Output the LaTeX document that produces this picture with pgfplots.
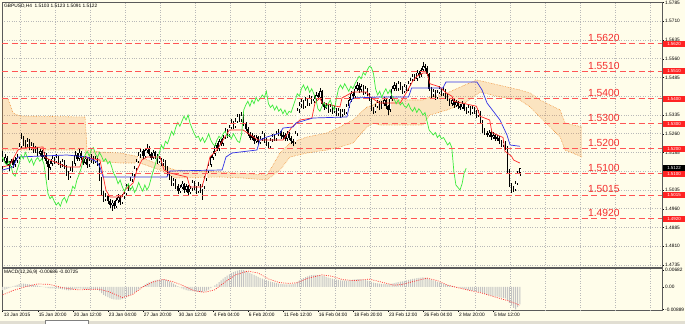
\documentclass[border=0pt]{standalone}
\usepackage{pgfplots}
\pgfplotsset{compat=1.18}
\usepackage{pgfplotstable}
\usetikzlibrary{patterns.meta}
\usepackage{fontspec}
\setmainfont{Liberation Sans}
\definecolor{bgcream}{RGB}{255,253,234}
\definecolor{gridgray}{RGB}{185,185,185}
\definecolor{axisgray}{RGB}{90,90,90}
\definecolor{levelred}{RGB}{255,85,85}
\definecolor{lvltext}{RGB}{245,45,45}
\definecolor{boxred}{RGB}{255,35,35}
\definecolor{tenkan}{RGB}{255,40,40}
\definecolor{kijun}{RGB}{50,50,230}
\definecolor{chikou}{RGB}{60,235,60}
\definecolor{cloudor}{RGB}{240,145,55}
\definecolor{histgray}{RGB}{195,195,195}
\definecolor{sigred}{RGB}{255,50,50}
\definecolor{stripgray}{RGB}{225,222,210}
\newcommand{\tf}{\fontsize{4.8}{5.5}\selectfont}
\newcommand{\lf}{\fontsize{10.3}{12}\selectfont}
\newcommand{\bxf}{\fontsize{4.4}{5}\selectfont}

\pgfplotstableread{
o h l c m
1.5130 1.5190 1.5120 1.5150 -0.0012
1.5150 1.5180 1.5140 1.5165 -0.0010
1.5165 1.5172 1.5130 1.5140 -0.0008
1.5140 1.5150 1.5110 1.5130 -0.0005
1.5130 1.5160 1.5122 1.5150 -0.0002
1.5150 1.5158 1.5125 1.5135 0.0002
1.5135 1.5165 1.5128 1.5155 0.0005
1.5155 1.5180 1.5145 1.5165 0.0008
1.5165 1.5222 1.5158 1.5210 0.0011
1.5210 1.5265 1.5200 1.5240 0.0013
1.5240 1.5250 1.5212 1.5225 0.0013
1.5225 1.5235 1.5200 1.5215 0.0012
1.5215 1.5242 1.5208 1.5230 0.0011
1.5230 1.5238 1.5195 1.5205 0.0010
1.5205 1.5228 1.5196 1.5215 0.0009
1.5215 1.5222 1.5185 1.5195 0.0008
1.5195 1.5212 1.5185 1.5200 0.0006
1.5200 1.5208 1.5170 1.5180 0.0005
1.5180 1.5200 1.5172 1.5190 0.0003
1.5190 1.5196 1.5155 1.5165 0.0001
1.5165 1.5188 1.5158 1.5175 -0.0001
1.5175 1.5182 1.5140 1.5150 -0.0003
1.5150 1.5158 1.5075 1.5125 -0.0005
1.5125 1.5150 1.5115 1.5140 -0.0006
1.5140 1.5172 1.5132 1.5160 -0.0006
1.5160 1.5168 1.5140 1.5150 -0.0006
1.5150 1.5178 1.5142 1.5165 -0.0006
1.5165 1.5170 1.5135 1.5145 -0.0007
1.5145 1.5152 1.5125 1.5135 -0.0008
1.5135 1.5160 1.5128 1.5150 -0.0009
1.5150 1.5155 1.5120 1.5130 -0.0010
1.5130 1.5136 1.5090 1.5100 -0.0012
1.5100 1.5110 1.5075 1.5090 -0.0013
1.5090 1.5125 1.5082 1.5115 -0.0012
1.5115 1.5150 1.5108 1.5140 -0.0010
1.5140 1.5190 1.5132 1.5175 -0.0008
1.5175 1.5185 1.5150 1.5160 -0.0007
1.5160 1.5198 1.5152 1.5185 -0.0006
1.5185 1.5192 1.5155 1.5165 -0.0007
1.5165 1.5172 1.5135 1.5145 -0.0008
1.5145 1.5170 1.5138 1.5160 -0.0009
1.5160 1.5165 1.5122 1.5135 -0.0010
1.5135 1.5165 1.5128 1.5155 -0.0010
1.5155 1.5178 1.5145 1.5165 -0.0009
1.5165 1.5172 1.5140 1.5150 -0.0009
1.5150 1.5170 1.5142 1.5160 -0.0009
1.5160 1.5165 1.5130 1.5140 -0.0011
1.5140 1.5145 1.5070 1.5080 -0.0016
1.5080 1.5088 1.5010 1.5020 -0.0024
1.5020 1.5030 1.4988 1.5000 -0.0031
1.5000 1.5022 1.4990 1.5010 -0.0036
1.5010 1.5018 1.4980 1.4990 -0.0040
1.4990 1.4998 1.4965 1.4975 -0.0044
1.4975 1.4995 1.4952 1.4985 -0.0047
1.4985 1.4992 1.4960 1.4970 -0.0049
1.4970 1.5005 1.4962 1.4995 -0.0050
1.4995 1.5018 1.4985 1.5005 -0.0050
1.5005 1.5012 1.4975 1.4985 -0.0050
1.4985 1.5020 1.4978 1.5010 -0.0048
1.5010 1.5032 1.5000 1.5020 -0.0045
1.5020 1.5060 1.5012 1.5050 -0.0041
1.5050 1.5058 1.5030 1.5040 -0.0037
1.5040 1.5085 1.5035 1.5075 -0.0032
1.5075 1.5105 1.5068 1.5095 -0.0027
1.5095 1.5132 1.5088 1.5120 -0.0021
1.5120 1.5160 1.5112 1.5150 -0.0015
1.5150 1.5188 1.5142 1.5175 -0.0009
1.5175 1.5202 1.5165 1.5190 -0.0003
1.5190 1.5198 1.5160 1.5170 0.0003
1.5170 1.5205 1.5162 1.5195 0.0009
1.5195 1.5218 1.5185 1.5205 0.0014
1.5205 1.5212 1.5170 1.5180 0.0018
1.5180 1.5188 1.5155 1.5165 0.0021
1.5165 1.5195 1.5158 1.5185 0.0024
1.5185 1.5192 1.5160 1.5170 0.0026
1.5170 1.5178 1.5140 1.5150 0.0028
1.5150 1.5172 1.5142 1.5160 0.0029
1.5160 1.5165 1.5130 1.5140 0.0030
1.5140 1.5160 1.5132 1.5150 0.0030
1.5150 1.5155 1.5115 1.5125 0.0029
1.5125 1.5132 1.5090 1.5100 0.0026
1.5100 1.5108 1.5075 1.5085 0.0022
1.5085 1.5092 1.5050 1.5060 0.0018
1.5060 1.5085 1.5052 1.5075 0.0013
1.5075 1.5080 1.5040 1.5050 0.0008
1.5050 1.5058 1.5020 1.5030 0.0003
1.5030 1.5055 1.5022 1.5045 -0.0002
1.5045 1.5072 1.5038 1.5060 -0.0006
1.5060 1.5065 1.5025 1.5035 -0.0009
1.5035 1.5060 1.5028 1.5050 -0.0012
1.5050 1.5055 1.5015 1.5025 -0.0014
1.5025 1.5050 1.5018 1.5040 -0.0015
1.5040 1.5075 1.5032 1.5065 -0.0016
1.5065 1.5070 1.5035 1.5045 -0.0017
1.5045 1.5052 1.5020 1.5030 -0.0018
1.5030 1.5065 1.5022 1.5055 -0.0019
1.5055 1.5060 1.5025 1.5035 -0.0020
1.5035 1.5058 1.4995 1.5050 -0.0019
1.5050 1.5090 1.5040 1.5080 -0.0017
1.5080 1.5120 1.5072 1.5110 -0.0014
1.5110 1.5145 1.5102 1.5135 -0.0010
1.5135 1.5175 1.5128 1.5165 -0.0005
1.5165 1.5192 1.5155 1.5180 0.0000
1.5180 1.5225 1.5172 1.5215 0.0006
1.5215 1.5222 1.5190 1.5200 0.0012
1.5200 1.5240 1.5192 1.5230 0.0019
1.5230 1.5238 1.5210 1.5220 0.0026
1.5220 1.5255 1.5212 1.5245 0.0033
1.5245 1.5282 1.5238 1.5270 0.0039
1.5270 1.5278 1.5245 1.5255 0.0045
1.5255 1.5295 1.5248 1.5285 0.0050
1.5285 1.5318 1.5278 1.5305 0.0055
1.5305 1.5312 1.5280 1.5290 0.0059
1.5290 1.5322 1.5282 1.5310 0.0062
1.5310 1.5340 1.5302 1.5330 0.0065
1.5330 1.5338 1.5305 1.5315 0.0067
1.5315 1.5347 1.5308 1.5335 0.0068
1.5335 1.5340 1.5290 1.5300 0.0067
1.5300 1.5308 1.5270 1.5280 0.0064
1.5280 1.5288 1.5250 1.5260 0.0060
1.5260 1.5268 1.5235 1.5245 0.0056
1.5245 1.5262 1.5236 1.5250 0.0052
1.5250 1.5256 1.5220 1.5230 0.0048
1.5230 1.5255 1.5222 1.5245 0.0044
1.5245 1.5250 1.5215 1.5225 0.0040
1.5225 1.5250 1.5218 1.5240 0.0036
1.5240 1.5270 1.5232 1.5260 0.0033
1.5260 1.5265 1.5225 1.5235 0.0030
1.5235 1.5242 1.5210 1.5220 0.0027
1.5220 1.5228 1.5198 1.5210 0.0024
1.5210 1.5245 1.5205 1.5235 0.0021
1.5235 1.5260 1.5228 1.5250 0.0019
1.5250 1.5258 1.5230 1.5240 0.0017
1.5240 1.5270 1.5232 1.5260 0.0015
1.5260 1.5280 1.5250 1.5270 0.0013
1.5270 1.5276 1.5240 1.5250 0.0012
1.5250 1.5266 1.5240 1.5255 0.0011
1.5255 1.5262 1.5230 1.5240 0.0010
1.5240 1.5270 1.5232 1.5260 0.0010
1.5260 1.5266 1.5235 1.5245 0.0010
1.5245 1.5252 1.5220 1.5230 0.0010
1.5230 1.5240 1.5212 1.5225 0.0011
1.5225 1.5270 1.5218 1.5260 0.0014
1.5260 1.5365 1.5252 1.5355 0.0020
1.5355 1.5388 1.5345 1.5375 0.0026
1.5375 1.5400 1.5365 1.5390 0.0031
1.5390 1.5396 1.5360 1.5370 0.0035
1.5370 1.5405 1.5362 1.5395 0.0039
1.5395 1.5402 1.5370 1.5380 0.0042
1.5380 1.5415 1.5372 1.5405 0.0045
1.5405 1.5412 1.5380 1.5390 0.0047
1.5390 1.5412 1.5382 1.5400 0.0048
1.5400 1.5425 1.5392 1.5415 0.0048
1.5415 1.5422 1.5395 1.5405 0.0047
1.5405 1.5443 1.5398 1.5430 0.0047
1.5430 1.5435 1.5370 1.5380 0.0045
1.5380 1.5388 1.5355 1.5365 0.0043
1.5365 1.5385 1.5358 1.5375 0.0040
1.5375 1.5380 1.5345 1.5355 0.0037
1.5355 1.5380 1.5348 1.5370 0.0035
1.5370 1.5376 1.5340 1.5350 0.0033
1.5350 1.5370 1.5342 1.5360 0.0031
1.5360 1.5365 1.5330 1.5340 0.0029
1.5340 1.5365 1.5332 1.5355 0.0028
1.5355 1.5360 1.5325 1.5335 0.0026
1.5335 1.5360 1.5328 1.5350 0.0025
1.5350 1.5358 1.5335 1.5345 0.0025
1.5345 1.5380 1.5338 1.5370 0.0025
1.5370 1.5405 1.5362 1.5395 0.0026
1.5395 1.5430 1.5388 1.5420 0.0027
1.5420 1.5428 1.5400 1.5410 0.0029
1.5410 1.5450 1.5402 1.5440 0.0030
1.5440 1.5465 1.5432 1.5455 0.0031
1.5455 1.5462 1.5425 1.5435 0.0031
1.5435 1.5460 1.5428 1.5450 0.0030
1.5450 1.5455 1.5415 1.5425 0.0029
1.5425 1.5450 1.5418 1.5440 0.0027
1.5440 1.5445 1.5410 1.5420 0.0025
1.5420 1.5425 1.5390 1.5400 0.0023
1.5400 1.5405 1.5350 1.5360 0.0020
1.5360 1.5368 1.5340 1.5350 0.0017
1.5350 1.5380 1.5342 1.5370 0.0015
1.5370 1.5395 1.5362 1.5385 0.0014
1.5385 1.5390 1.5355 1.5365 0.0013
1.5365 1.5390 1.5358 1.5380 0.0012
1.5380 1.5405 1.5372 1.5395 0.0012
1.5395 1.5400 1.5360 1.5370 0.0011
1.5370 1.5375 1.5335 1.5355 0.0010
1.5355 1.5410 1.5348 1.5400 0.0011
1.5400 1.5450 1.5392 1.5440 0.0013
1.5440 1.5468 1.5432 1.5455 0.0015
1.5455 1.5462 1.5430 1.5440 0.0017
1.5440 1.5472 1.5432 1.5460 0.0019
1.5460 1.5466 1.5435 1.5445 0.0021
1.5445 1.5450 1.5420 1.5430 0.0022
1.5430 1.5460 1.5422 1.5450 0.0024
1.5450 1.5456 1.5430 1.5440 0.0026
1.5440 1.5470 1.5432 1.5460 0.0028
1.5460 1.5485 1.5452 1.5475 0.0030
1.5475 1.5500 1.5468 1.5490 0.0032
1.5490 1.5498 1.5470 1.5480 0.0033
1.5480 1.5515 1.5472 1.5505 0.0035
1.5505 1.5512 1.5485 1.5495 0.0036
1.5495 1.5525 1.5488 1.5515 0.0037
1.5515 1.5547 1.5508 1.5530 0.0038
1.5530 1.5540 1.5512 1.5525 0.0037
1.5525 1.5530 1.5490 1.5500 0.0035
1.5500 1.5505 1.5430 1.5440 0.0032
1.5440 1.5448 1.5400 1.5415 0.0029
1.5415 1.5440 1.5408 1.5430 0.0026
1.5430 1.5435 1.5395 1.5405 0.0023
1.5405 1.5435 1.5398 1.5425 0.0020
1.5425 1.5450 1.5418 1.5440 0.0018
1.5440 1.5445 1.5410 1.5420 0.0015
1.5420 1.5445 1.5412 1.5435 0.0013
1.5435 1.5440 1.5400 1.5410 0.0010
1.5410 1.5418 1.5390 1.5400 0.0008
1.5400 1.5405 1.5370 1.5380 0.0006
1.5380 1.5405 1.5372 1.5395 0.0004
1.5395 1.5400 1.5365 1.5375 0.0002
1.5375 1.5395 1.5368 1.5385 0.0000
1.5385 1.5390 1.5360 1.5370 -0.0002
1.5370 1.5378 1.5355 1.5365 -0.0004
1.5365 1.5390 1.5358 1.5380 -0.0006
1.5380 1.5385 1.5350 1.5360 -0.0008
1.5360 1.5368 1.5340 1.5350 -0.0010
1.5350 1.5375 1.5342 1.5365 -0.0012
1.5365 1.5370 1.5335 1.5345 -0.0013
1.5345 1.5370 1.5338 1.5360 -0.0015
1.5360 1.5366 1.5340 1.5350 -0.0016
1.5350 1.5356 1.5325 1.5335 -0.0018
1.5335 1.5355 1.5328 1.5345 -0.0019
1.5345 1.5350 1.5300 1.5310 -0.0021
1.5310 1.5315 1.5265 1.5275 -0.0024
1.5275 1.5282 1.5255 1.5265 -0.0027
1.5265 1.5272 1.5245 1.5255 -0.0030
1.5255 1.5275 1.5248 1.5265 -0.0032
1.5265 1.5270 1.5235 1.5245 -0.0034
1.5245 1.5265 1.5238 1.5255 -0.0035
1.5255 1.5260 1.5230 1.5240 -0.0037
1.5240 1.5255 1.5232 1.5245 -0.0038
1.5245 1.5250 1.5220 1.5230 -0.0040
1.5230 1.5236 1.5205 1.5215 -0.0042
1.5215 1.5235 1.5208 1.5225 -0.0043
1.5225 1.5230 1.5195 1.5205 -0.0045
1.5205 1.5210 1.5100 1.5110 -0.0052
1.5110 1.5118 1.5045 1.5055 -0.0063
1.5055 1.5065 1.5025 1.5045 -0.0074
1.5045 1.5052 1.5028 1.5035 -0.0083
1.5035 1.5070 1.5030 1.5060 -0.0089
1.5060 1.5110 1.5055 1.5103 -0.0080
1.5103 1.5123 1.5091 1.5122 -0.0069
}\price

\begin{document}
\begin{tikzpicture}
\useasboundingbox (0pt,0pt) rectangle (685pt,324pt);
\fill[bgcream] (0pt,0pt) rectangle (685pt,324pt);

% ---------------- main price panel ----------------
\begin{axis}[
  at={(2pt,57pt)}, anchor=south west,
  scale only axis, width=660pt, height=265pt,
  xmin=-0.34, xmax=320.05, ymin=1.4727, ymax=1.5787,
  axis line style={draw=axisgray, line width=0.8pt},
  xtick={8.5,25.5,...,314.5},
  xticklabels={},
  xmajorgrids=true,
  ytick={1.4735,1.4810,1.4885,1.4960,1.5035,1.5110,1.5185,1.5260,1.5335,1.5410,1.5485,1.5560,1.5635,1.5710,1.5785},
  yticklabels={1.4735,1.4810,1.4885,1.4960,1.5035,,1.5185,1.5260,1.5335,,1.5485,1.5560,1.5635,1.5710,1.5785},
  ymajorgrids=true,
  major grid style={draw=gridgray, dotted, line width=0.5pt},
  xtick style={draw=none},
  ytick style={draw=black, line width=0.4pt},
  ytick pos=right, yticklabel pos=right,
  tick align=outside, major tick length=2pt,
  scaled y ticks=false,
  yticklabel style={font=\tf, anchor=west, inner sep=1pt},
]
% Ichimoku cloud: area between Senkou span A and B (outline: A left to right, B right to left)
\addplot[pattern={Dots[distance=2pt,radius=0.62pt]}, pattern color=cloudor, draw=none] coordinates {
(-0.34,1.5403) (2.6,1.5399) (5.0,1.5343) (8.4,1.5331) (40.0,1.5327) (40.9,1.5195)
(47.2,1.5187) (57.0,1.5183) (66.6,1.5167) (76.4,1.5135) (83.7,1.5115) (105.5,1.5107)
(128.3,1.5095) (130.7,1.5127) (134.6,1.5183) (139.5,1.5223) (147.7,1.5247) (157.4,1.5263)
(163.7,1.5287) (170.0,1.5315) (176.8,1.5367) (179.8,1.5375) (183.2,1.5395) (204.0,1.5395)
(207.4,1.5407) (215.7,1.5423) (224.4,1.5455) (230.2,1.5475) (236.5,1.5463) (251.1,1.5435)
(256.0,1.5423) (260.8,1.5395) (270.6,1.5355) (273.0,1.5303) (281.2,1.5287)
(281.2,1.5167) (273.0,1.5195) (270.6,1.5247) (265.7,1.5287) (260.8,1.5327) (256.0,1.5367)
(251.1,1.5395) (241.4,1.5407) (231.7,1.5427) (224.4,1.5383) (215.7,1.5355) (207.4,1.5335)
(204.0,1.5295) (183.2,1.5295) (179.8,1.5303) (176.8,1.5287) (170.0,1.5223) (163.7,1.5207)
(157.4,1.5195) (147.7,1.5183) (139.5,1.5167) (134.6,1.5115) (128.3,1.5075) (116.7,1.5083)
(105.5,1.5087) (83.7,1.5083) (76.4,1.5115) (66.6,1.5143) (57.0,1.5143) (40.9,1.5155)
(40.0,1.5195) (-0.34,1.5195)};
% Senkou span A
\addplot[draw=cloudor, densely dotted, line width=0.6pt, mark=none] coordinates {
(-0.34,1.5403) (2.6,1.5399) (5.0,1.5343) (8.4,1.5331) (40.0,1.5327) (40.9,1.5195)
(47.2,1.5187) (57.0,1.5183) (66.6,1.5167) (76.4,1.5135) (83.7,1.5115) (105.5,1.5107)
(128.3,1.5095) (130.7,1.5127) (134.6,1.5183) (139.5,1.5223) (147.7,1.5247) (157.4,1.5263)
(163.7,1.5287) (170.0,1.5315) (176.8,1.5367) (179.8,1.5375) (183.2,1.5395) (204.0,1.5395)
(207.4,1.5407) (215.7,1.5423) (224.4,1.5455) (230.2,1.5475) (236.5,1.5463) (251.1,1.5435)
(256.0,1.5423) (260.8,1.5395) (270.6,1.5355) (273.0,1.5303) (281.2,1.5287)};
% Senkou span B
\addplot[draw=cloudor, densely dotted, line width=0.6pt, mark=none] coordinates {
(-0.34,1.5195) (40.0,1.5195) (40.9,1.5155) (57.0,1.5143) (66.6,1.5143) (76.4,1.5115)
(83.7,1.5083) (105.5,1.5087) (116.7,1.5083) (128.3,1.5075) (134.6,1.5115) (139.5,1.5167)
(147.7,1.5183) (157.4,1.5195) (163.7,1.5207) (170.0,1.5223) (176.8,1.5287) (179.8,1.5303)
(183.2,1.5295) (204.0,1.5295) (207.4,1.5335) (215.7,1.5355) (224.4,1.5383) (231.7,1.5427)
(241.4,1.5407) (251.1,1.5395) (256.0,1.5367) (260.8,1.5327) (265.7,1.5287) (270.6,1.5247)
(273.0,1.5195) (281.2,1.5167)};

% candles: wicks
\addplot[draw=none, mark=none,
  error bars/.cd, y dir=both, y explicit, error mark=none,
  error bar style={draw=black, line width=0.5pt}]
  table[x expr=\coordindex, y expr={(\thisrow{h}+\thisrow{l})/2},
        y error expr={(\thisrow{h}-\thisrow{l})/2}] {\price};
% candles: bodies
\addplot[draw=none, mark=none,
  error bars/.cd, y dir=both, y explicit, error mark=none,
  error bar style={draw=black, line width=1.35pt}]
  table[x expr=\coordindex, y expr={(\thisrow{o}+\thisrow{c})/2},
        y error expr={max(abs(\thisrow{o}-\thisrow{c})/2,0.00012)}] {\price};
% bullish candles: white core
\addplot[draw=none, mark=none,
  error bars/.cd, y dir=both, y explicit, error mark=none,
  error bar style={draw=white, line width=0.45pt}]
  table[x expr=\coordindex, y expr={(\thisrow{o}+\thisrow{c})/2},
        y error expr={max((\thisrow{c}-\thisrow{o})/2-0.00025,0)}] {\price};

% Tenkan-sen
\addplot[tenkan, line width=0.7pt, mark=none] coordinates {
(0,1.5127) (3.5,1.5135) (7.4,1.5195) (9.4,1.5203) (19.6,1.5207) (20.5,1.5167) (23,1.5155)
(31.2,1.5127) (37.5,1.5127) (39,1.5167) (47.2,1.5155) (48.2,1.5115) (50.1,1.5035) (52.1,1.5007)
(57.9,1.5007) (59.4,1.5035) (63.3,1.5063) (65.2,1.5115) (67.6,1.5155) (70,1.5167) (76.4,1.5167)
(78.3,1.5115) (81.2,1.5103) (89.5,1.5087) (90.9,1.5047) (96.7,1.5047) (98.7,1.5103) (100.6,1.5167)
(104,1.5195) (107,1.5235) (110,1.5275) (116.7,1.5275) (123.9,1.5235) (136.1,1.5235) (140.4,1.5287)
(144.3,1.5315) (150.1,1.5323) (151.6,1.5383) (154,1.5403) (155,1.5383) (163.7,1.5367) (164.7,1.5403)
(170,1.5427) (176.8,1.5427) (178.3,1.5407) (183,1.5383) (193,1.5383) (196.3,1.5430) (199,1.5470)
(201.1,1.5490) (204,1.5503) (206,1.5503) (207.4,1.5460) (212,1.5448) (215,1.5425) (218.1,1.5410)
(219,1.5390) (230,1.5370) (231.7,1.5330) (236.4,1.5315) (237.5,1.5265) (242.9,1.5245)
(243.8,1.5190) (247,1.5170) (248,1.5155) (251,1.5143)};
% Kijun-sen
\addplot[kijun, line width=0.7pt, mark=none] coordinates {
(0,1.5115) (5,1.5127) (7.4,1.5167) (31.2,1.5175) (40.9,1.5167) (45.8,1.5147) (47.2,1.5127)
(48.7,1.5087) (79.7,1.5087) (81.2,1.5111) (106.5,1.5115) (108.4,1.5167) (111.3,1.5183)
(123.4,1.5195) (124.9,1.5235) (128.3,1.5247) (134.6,1.5263) (136.1,1.5283) (140.9,1.5287)
(142.4,1.5303) (150.6,1.5323) (167.1,1.5327) (168.6,1.5383) (170,1.5403) (183,1.5407)
(197,1.5407) (198.5,1.5443) (213.7,1.5443) (215.2,1.5467) (230.2,1.5467) (232.7,1.5435)
(235.1,1.5383) (241.4,1.5315) (244.8,1.5255) (246.3,1.5215) (251,1.5210)};
% Chikou span (close shifted 26 bars back)
\addplot[chikou, line width=0.7pt, mark=none] table[x expr=\coordindex-26, y=c] {\price};

% horizontal levels
\addplot[levelred, line width=0.9pt, dash pattern=on 6pt off 3.5pt] coordinates {(-0.34,1.5620) (320.05,1.5620)};
\addplot[levelred, line width=0.9pt, dash pattern=on 6pt off 3.5pt] coordinates {(-0.34,1.5510) (320.05,1.5510)};
\addplot[levelred, line width=0.9pt, dash pattern=on 6pt off 3.5pt] coordinates {(-0.34,1.5400) (320.05,1.5400)};
\addplot[levelred, line width=0.9pt, dash pattern=on 6pt off 3.5pt] coordinates {(-0.34,1.5300) (320.05,1.5300)};
\addplot[levelred, line width=0.9pt, dash pattern=on 6pt off 3.5pt] coordinates {(-0.34,1.5200) (320.05,1.5200)};
\addplot[levelred, line width=0.9pt, dash pattern=on 6pt off 3.5pt] coordinates {(-0.34,1.5100) (320.05,1.5100)};
\addplot[levelred, line width=0.9pt, dash pattern=on 6pt off 3.5pt] coordinates {(-0.34,1.5015) (320.05,1.5015)};
\addplot[levelred, line width=0.9pt, dash pattern=on 6pt off 3.5pt] coordinates {(-0.34,1.4920) (320.05,1.4920)};

\node[anchor=base west, font=\lf, text=lvltext, inner sep=0pt, yshift=2pt] at (axis cs:284.1,1.5620) {1.5620};
\node[anchor=base west, font=\lf, text=lvltext, inner sep=0pt, yshift=2pt] at (axis cs:284.1,1.5510) {1.5510};
\node[anchor=base west, font=\lf, text=lvltext, inner sep=0pt, yshift=2pt] at (axis cs:284.1,1.5400) {1.5400};
\node[anchor=base west, font=\lf, text=lvltext, inner sep=0pt, yshift=2pt] at (axis cs:284.1,1.5300) {1.5300};
\node[anchor=base west, font=\lf, text=lvltext, inner sep=0pt, yshift=2pt] at (axis cs:284.1,1.5200) {1.5200};
\node[anchor=base west, font=\lf, text=lvltext, inner sep=0pt, yshift=2pt] at (axis cs:284.1,1.5100) {1.5100};
\node[anchor=base west, font=\lf, text=lvltext, inner sep=0pt, yshift=2pt] at (axis cs:284.1,1.5015) {1.5015};
\node[anchor=base west, font=\lf, text=lvltext, inner sep=0pt, yshift=2pt] at (axis cs:284.1,1.4920) {1.4920};
\end{axis}

% ---------------- MACD panel ----------------
\begin{axis}[
  at={(2pt,14pt)}, anchor=south west,
  scale only axis, width=660pt, height=42pt,
  xmin=-0.34, xmax=320.05, ymin=-0.0091, ymax=0.0075,
  axis line style={draw=axisgray, line width=0.8pt},
  xtick={0,17,...,238},
  xticklabels={13 Jan 2015,15 Jan 20:00,20 Jan 12:00,23 Jan 04:00,27 Jan 20:00,30 Jan 12:00,4 Feb 04:00,6 Feb 20:00,11 Feb 12:00,16 Feb 04:00,18 Feb 20:00,23 Feb 12:00,26 Feb 04:00,2 Mar 20:00,5 Mar 12:00},
  xtick pos=left, xticklabel pos=left,
  xticklabel style={font=\tf, anchor=north west, inner sep=0.6pt, xshift=0.3pt},
  extra x ticks={8.5,25.5,...,314.5},
  extra x tick labels={},
  extra x tick style={grid=major, major grid style={draw=gridgray, dotted, line width=0.5pt}, tick style={draw=none}},
  ytick={-0.00889,0,0.00682},
  yticklabels={-0.00889,0.00,0.00682},
  scaled y ticks=false,
  ytick pos=right, yticklabel pos=right,
  yticklabel style={font=\tf, anchor=west, inner sep=1pt},
  tick align=outside, major tick length=2pt,
  tick style={draw=black, line width=0.4pt},
]
\addplot[ybar, bar width=1pt, fill=histgray, draw=none] table[x expr=\coordindex, y=m] {\price};
\addplot[sigred, line width=0.75pt, dash pattern=on 0.9pt off 1.3pt, mark=none] coordinates {
(0,-0.0031) (5,-0.0014) (12,0.0003) (17,0.0012) (23,0.0010) (29,-0.0003) (36,-0.0011) (42,-0.0010)
(47,-0.0009) (52,-0.0020) (58,-0.0042) (63,-0.0030) (68,0.0000) (73,0.0020) (78,0.0030) (83,0.0020)
(88,0.0004) (93,-0.0015) (98,-0.0021) (103,-0.0011) (108,0.0020) (113,0.0048) (119,0.0063)
(124,0.0055) (129,0.0032) (134,0.0018) (139,0.0014) (143,0.0017) (148,0.0034) (155,0.0048)
(160,0.0042) (165,0.0029) (171,0.0025) (178,0.0031) (185,0.0017) (190,0.0007) (194,0.0010)
(199,0.0021) (206,0.0035) (211,0.0025) (216,0.0007) (221,-0.0003) (227,-0.0014) (233,-0.0025)
(240,-0.0042) (246,-0.0056) (251,-0.00725)};
\end{axis}

% ---------------- price scale boxes ----------------
\fill[boxred] (663pt,277.25pt) rectangle (685pt,283.25pt); \node[font=\bxf, text=white, inner sep=0pt] at (674pt,280.25pt) {1.5620};
\fill[boxred] (663pt,249.75pt) rectangle (685pt,255.75pt); \node[font=\bxf, text=white, inner sep=0pt] at (674pt,252.75pt) {1.5510};
\fill[boxred] (663pt,222.25pt) rectangle (685pt,228.25pt); \node[font=\bxf, text=white, inner sep=0pt] at (674pt,225.25pt) {1.5400};
\fill[boxred] (663pt,197.25pt) rectangle (685pt,203.25pt); \node[font=\bxf, text=white, inner sep=0pt] at (674pt,200.25pt) {1.5300};
\fill[boxred] (663pt,172.25pt) rectangle (685pt,178.25pt); \node[font=\bxf, text=white, inner sep=0pt] at (674pt,175.25pt) {1.5200};
\fill[boxred] (663pt,147.25pt) rectangle (685pt,153.25pt); \node[font=\bxf, text=white, inner sep=0pt] at (674pt,150.25pt) {1.5100};
\fill[boxred] (663pt,126pt) rectangle (685pt,132pt); \node[font=\bxf, text=white, inner sep=0pt] at (674pt,129pt) {1.5015};
\fill[boxred] (663pt,102.25pt) rectangle (685pt,108.25pt); \node[font=\bxf, text=white, inner sep=0pt] at (674pt,105.25pt) {1.4920};
\fill[black] (663pt,152.75pt) rectangle (685pt,158.75pt); \node[font=\bxf, text=white, inner sep=0pt] at (674pt,155.75pt) {1.5122};

% ---------------- headers ----------------
\node[anchor=west, font=\tf, inner sep=0pt] at (4pt,318.3pt) {GBPUSD,H4\ \ 1.5103 1.5123 1.5091 1.5122};
\node[anchor=west, font=\tf, inner sep=0pt] at (4pt,51.8pt) {MACD(12,26,9) -0.00686 -0.00725};

% ---------------- bottom tab strip ----------------
\fill[stripgray] (0pt,0pt) rectangle (685pt,3.5pt);
\fill[white] (45pt,0pt) rectangle (88pt,3.5pt);
\draw[gray, line width=0.4pt] (45pt,0pt) -- (45pt,3.5pt) -- (88pt,3.5pt) -- (88pt,0pt);
\end{tikzpicture}
\end{document}
